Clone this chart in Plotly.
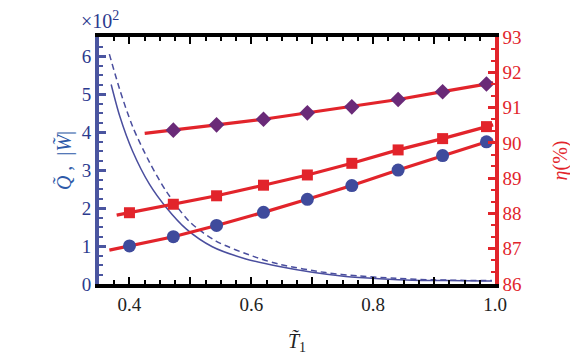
import plotly.graph_objects as go

# ---------------- data ----------------
# marker positions (T1) and efficiencies eta (%) -- right axis
t_pts = [0.400, 0.472, 0.543, 0.620, 0.692, 0.765, 0.841, 0.914, 0.986]
eta_circle = [87.08, 87.34, 87.66, 88.03, 88.40, 88.79, 89.23, 89.64, 90.03]
eta_square = [88.02, 88.26, 88.50, 88.80, 89.09, 89.42, 89.80, 90.12, 90.46]
t_diamond = [0.472, 0.543, 0.620, 0.692, 0.765, 0.841, 0.914, 0.986]
eta_diamond = [90.36, 90.51, 90.67, 90.85, 91.02, 91.23, 91.45, 91.67]

# where the red lines start and end
line_circle_ends = ([0.367, 0.997], [86.96, 90.09])
line_square_ends = ([0.379, 0.997], [87.95, 90.51])
line_diamond_ends = ([0.425, 0.997], [90.27, 91.70])

# decaying curves (units of 10^2) -- left axis
q_t = [0.370, 0.384, 0.405, 0.433, 0.460, 0.493, 0.536, 0.591, 0.646, 0.700,
       0.755, 0.810, 0.864, 0.919, 0.985, 0.995]
q_val = [5.25, 4.42, 3.50, 2.62, 2.02, 1.45, 0.98, 0.66, 0.46, 0.31,
         0.20, 0.14, 0.10, 0.09, 0.08, 0.08]
w_t = [0.367, 0.384, 0.405, 0.433, 0.460, 0.498, 0.542, 0.608, 0.646, 0.722,
       0.777, 0.837, 0.897, 0.985, 0.995]
w_val = [6.05, 5.12, 4.15, 3.20, 2.45, 1.65, 1.13, 0.70, 0.52, 0.30,
         0.21, 0.15, 0.11, 0.09, 0.09]

x_tickvals = [0.4, 0.5, 0.6, 0.7, 0.8, 0.9, 1.0]
x_ticktext = ["0.4", "", "0.6", "", "0.8", "", "1.0"]
y_tickvals = [0, 1, 2, 3, 4, 5, 6]
y2_tickvals = [86, 87, 88, 89, 90, 91, 92, 93]

# ---------------- style ----------------
RED = "#e2242b"
BLUE_LINE = "#4a4e9e"
BLUE_MARK = "#3f4b9c"
PURPLE = "#6a2a78"
BLUE_AXIS = "#4a55a0"
BLUE_TXT = "#2b3a8e"
FONT = "Liberation Serif"

fig = go.Figure()

# curves on the left axis
fig.add_trace(go.Scatter(x=q_t, y=q_val, mode="lines",
                         line=dict(color=BLUE_LINE, width=1.5, shape="spline", smoothing=0.8),
                         showlegend=False))
fig.add_trace(go.Scatter(x=w_t, y=w_val, mode="lines",
                         line=dict(color=BLUE_LINE, width=1.5, dash="6px,4px", shape="spline", smoothing=0.8),
                         showlegend=False))

# red lines through the markers, extended to their end points
for (ends_t, ends_v), tx, ty in [(line_circle_ends, t_pts, eta_circle),
                                 (line_square_ends, t_pts, eta_square),
                                 (line_diamond_ends, t_diamond, eta_diamond)]:
    fig.add_trace(go.Scatter(x=[ends_t[0]] + tx + [ends_t[1]],
                             y=[ends_v[0]] + ty + [ends_v[1]],
                             yaxis="y2", mode="lines", line=dict(color=RED, width=3.2),
                             showlegend=False))

fig.add_trace(go.Scatter(x=t_pts, y=eta_circle, yaxis="y2", mode="markers",
                         marker=dict(symbol="circle", size=13, color=BLUE_MARK), showlegend=False))
fig.add_trace(go.Scatter(x=t_pts, y=eta_square, yaxis="y2", mode="markers",
                         marker=dict(symbol="square", size=11, color=RED), showlegend=False))
fig.add_trace(go.Scatter(x=t_diamond, y=eta_diamond, yaxis="y2", mode="markers",
                         marker=dict(symbol="diamond", size=12, color=PURPLE), showlegend=False))

fig.update_layout(
    width=570, height=354,
    margin=dict(l=91, r=83, t=29, b=78),
    paper_bgcolor="white", plot_bgcolor="white",
    font=dict(family=FONT, size=19, color="black"),
    xaxis=dict(
        range=[0.35, 1.0], showgrid=False, zeroline=False, automargin=False,
        showline=True, linecolor="black", linewidth=3.5, mirror="ticks",
        ticks="inside", ticklen=7, tickwidth=2, tickcolor="black",
        tickvals=x_tickvals, ticktext=x_ticktext,
        tickfont=dict(family=FONT, size=19, color="#222"),
        ticklabelstandoff=0,
        minor=dict(dtick=0.025, tick0=0.4, ticks="inside", ticklen=4, tickwidth=2, tickcolor="black", showgrid=False),
        title=dict(text="<i>T̃</i><sub>1</sub>", font=dict(family=FONT, size=20, color="#222"), standoff=21),
    ),
    yaxis=dict(
        range=[0, 6.5], showgrid=False, zeroline=False, automargin=False,
        showline=True, linecolor=BLUE_AXIS, linewidth=4,
        ticks="inside", ticklen=7, tickwidth=2.5, tickcolor=BLUE_AXIS,
        tickvals=y_tickvals,
        tickfont=dict(family=FONT, size=19, color=BLUE_TXT),
        minor=dict(dtick=0.25, tick0=0, ticks="inside", ticklen=4, tickwidth=2, tickcolor=BLUE_AXIS, showgrid=False),
        title=dict(text="<i>Q̃</i> ,  |<i>W̃</i>|", font=dict(family=FONT, size=20, color="#2e5aa8"), standoff=6),
    ),
    yaxis2=dict(
        range=[86, 93], overlaying="y", side="right", showgrid=False, zeroline=False, automargin=False,
        showline=True, linecolor=RED, linewidth=3.5,
        ticks="inside", ticklen=7, tickwidth=2.5, tickcolor=RED,
        tickvals=y2_tickvals,
        tickfont=dict(family=FONT, size=19, color=RED),
        minor=dict(dtick=1/3, tick0=86, ticks="inside", ticklen=4, tickwidth=2, tickcolor=RED, showgrid=False),
        title=dict(text="<i>η</i>(%)", font=dict(family=FONT, size=20, color=RED), standoff=33),
    ),
    annotations=[dict(text="×10<sup>2</sup>", xref="paper", yref="paper", x=-0.05, y=1.07,
                      xanchor="left", yanchor="middle", showarrow=False,
                      font=dict(family=FONT, size=20, color=BLUE_TXT))],
)

fig.write_html("out.html")
